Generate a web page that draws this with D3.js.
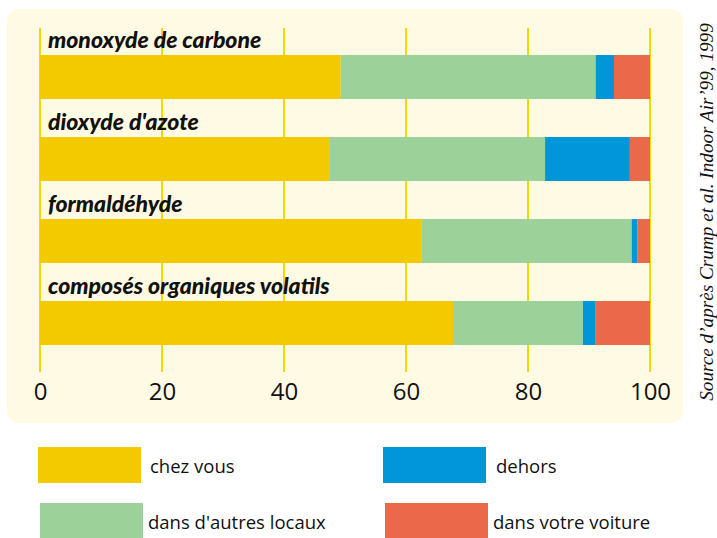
<!DOCTYPE html>
<html>
<head>
<meta charset="utf-8">
<script src="https://cdn.jsdelivr.net/npm/d3@7"></script>
<style>
  html, body { margin: 0; padding: 0; background: #ffffff; }
  svg { display: block; }
</style>
</head>
<body>
<svg id="chart" width="717" height="538"></svg>
<script>
// Pollutant categories, top to bottom
const categories = [
  "monoxyde de carbone",
  "dioxyde d'azote",
  "formaldéhyde",
  "composés organiques volatils"
];
// Share of exposure (%) by place, one array per place
const chezVous      = [49.3, 47.4, 62.6, 67.7];
const autresLocaux  = [41.8, 35.4, 34.4, 21.3];
const dehors        = [3.0, 13.9, 0.9, 2.0];
const voiture       = [5.9, 3.3, 2.1, 9.0];

const seriesNames = ["chez vous", "dans d'autres locaux", "dehors", "dans votre voiture"];
const seriesColors = ["#f3c900", "#9cd19a", "#0096d7", "#e9694a"];
const tickValues = [0, 20, 40, 60, 80, 100];
const sourceText = "Source d\u2019après Crump et al. Indoor Air\u201999, 1999";

const rows = categories.map((c, i) => ({
  name: c,
  values: [chezVous[i], autresLocaux[i], dehors[i], voiture[i]]
}));

const svg = d3.select("#chart");

// Pale panel behind the plot
svg.append("rect")
  .attr("x", 7).attr("y", 9)
  .attr("width", 676).attr("height", 414)
  .attr("rx", 12).attr("ry", 12)
  .attr("fill", "#fffae3");

const x = d3.scaleLinear().domain([0, 100]).range([40, 650]);
const y = d3.scaleBand().domain(categories).range([28, 356]).paddingInner(0).paddingOuter(0);

// Vertical grid lines
svg.append("g").selectAll("line")
  .data(tickValues)
  .join("line")
  .attr("x1", d => x(d)).attr("x2", d => x(d))
  .attr("y1", 28).attr("y2", 372)
  .attr("stroke", "#f7d800")
  .attr("stroke-width", 2);

// Stacked bars
const barOffset = 27, barH = 44;
const stack = d3.stack().keys([0, 1, 2, 3]).value((d, k) => d.values[k]);
const stacked = stack(rows);

stacked.forEach((layer, k) => {
  svg.append("g")
    .attr("fill", seriesColors[k])
    .selectAll("rect")
    .data(layer)
    .join("rect")
    .attr("x", d => x(d[0]))
    .attr("width", d => x(d[1]) - x(d[0]))
    .attr("y", d => y(d.data.name) + barOffset)
    .attr("height", barH);
});

// Category labels above each bar
svg.append("g").selectAll("text")
  .data(categories)
  .join("text")
  .attr("x", 48)
  .attr("y", d => y(d) + 20)
  .attr("font-family", "Lato, 'Open Sans', sans-serif")
  .attr("font-weight", "900")
  .attr("font-style", "italic")
  .attr("font-size", 23)
  .attr("fill", "#111")
  .text(d => d);

// Bottom axis labels
const axis = d3.axisBottom(x).tickValues(tickValues).tickSize(0).tickPadding(0);
const gAxis = svg.append("g").attr("transform", "translate(0,383)").call(axis);
gAxis.select(".domain").remove();
gAxis.selectAll("text")
  .attr("font-family", "'Open Sans', sans-serif")
  .attr("font-size", 24)
  .attr("fill", "#111")
  .attr("dy", "0.71em");

// Legend
const legendItems = [
  { name: seriesNames[0], color: seriesColors[0], sx: 38,  sy: 447, tx: 150 },
  { name: seriesNames[2], color: seriesColors[2], sx: 383, sy: 447, tx: 496 },
  { name: seriesNames[1], color: seriesColors[1], sx: 40,  sy: 503, tx: 148 },
  { name: seriesNames[3], color: seriesColors[3], sx: 385, sy: 503, tx: 493 }
];
const lg = svg.append("g").selectAll("g").data(legendItems).join("g");
lg.append("rect")
  .attr("x", d => d.sx).attr("y", d => d.sy)
  .attr("width", 103).attr("height", 36)
  .attr("fill", d => d.color);
lg.append("text")
  .attr("x", d => d.tx).attr("y", d => d.sy + 26)
  .attr("font-family", "'Open Sans', sans-serif")
  .attr("font-size", 18.5)
  .attr("fill", "#111")
  .text(d => d.name);

// Vertical source credit
svg.append("text")
  .attr("transform", "translate(713,212) rotate(-90)")
  .attr("text-anchor", "middle")
  .attr("font-family", "'Liberation Serif', serif")
  .attr("font-style", "italic")
  .attr("font-size", 19.2)
  .attr("fill", "#111")
  .text(sourceText);
</script>
</body>
</html>
